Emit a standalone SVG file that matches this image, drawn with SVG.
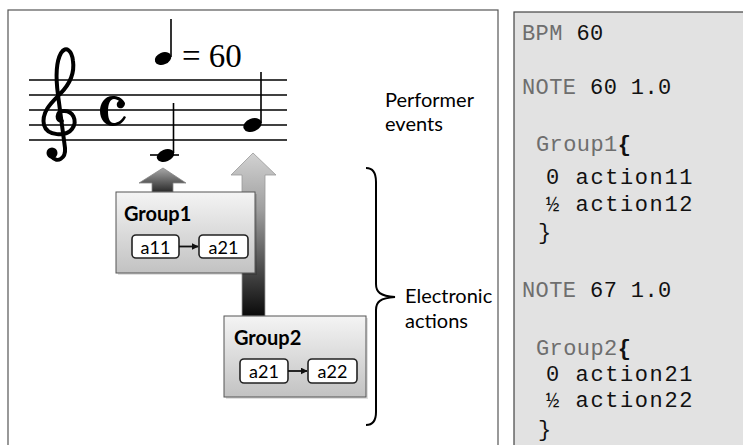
<svg xmlns="http://www.w3.org/2000/svg" width="743" height="445" viewBox="0 0 743 445">
<style>
.frame{fill:#fff;stroke:#555;stroke-width:1.2}
.code{fill:#e2e2e2;stroke:#444;stroke-width:1.2}
.staff{stroke:#000;stroke-width:1.4}
.sans{font-family:Lato,"Liberation Sans",sans-serif;fill:#000}
.lbl{font-size:20px}
.gname{font-size:20px;font-weight:bold}
.act{font-size:18px}
.abox{fill:#fff;stroke:#222;stroke-width:1.6}
.grp{fill:url(#gbox);stroke:#555;stroke-width:1}
.shadow{fill:#000;opacity:0.12}
.mono{font-family:"Liberation Mono","Courier New",monospace}
.kw{fill:#6e6e6e}
.bk{fill:#111}
.code1{font-size:22px;letter-spacing:0.4px}
.code2{font-size:22px;letter-spacing:1.6px}
.link{stroke:#111;stroke-width:1.8;fill:none}
</style>
<defs>
<linearGradient id="gbox" x1="0" y1="0" x2="0" y2="1">
<stop offset="0" stop-color="#f4f4f4"/>
<stop offset="1" stop-color="#c2c2c2"/>
</linearGradient>
<linearGradient id="garr1" x1="0" y1="168" x2="0" y2="192" gradientUnits="userSpaceOnUse">
<stop offset="0" stop-color="#a8a8a8"/>
<stop offset="1" stop-color="#2a2a2a"/>
</linearGradient>
<linearGradient id="garr2" x1="0" y1="153" x2="0" y2="316" gradientUnits="userSpaceOnUse">
<stop offset="0" stop-color="#d2d2d2"/>
<stop offset="0.35" stop-color="#9e9e9e"/>
<stop offset="1" stop-color="#0a0a0a"/>
</linearGradient>
<marker id="ah" viewBox="0 0 10 10" refX="9" refY="5" markerWidth="7" markerHeight="7" orient="auto" markerUnits="userSpaceOnUse">
<path d="M0,0 L10,5 L0,10 Z" fill="#111"/>
</marker>
</defs>

<rect class="frame" x="8" y="10" width="490" height="460"/>
<rect class="code" x="514" y="12" width="260" height="460"/>

<g id="score">
<line class="staff" x1="29" y1="80" x2="287" y2="80"/>
<line class="staff" x1="29" y1="95" x2="287" y2="95"/>
<line class="staff" x1="29" y1="110" x2="287" y2="110"/>
<line class="staff" x1="29" y1="125" x2="287" y2="125"/>
<line class="staff" x1="29" y1="140" x2="287" y2="140"/>
<path d="M62,121 C56,121 56,112 63,111 C73,110 78,121 72,129 C66,137 47,136 44,125 C41,112 52,102 60,94 C69,85 75,75 73,61 C72,51 66,45 61,53 C56,62 56,80 58,95 L65,148 C66,159 57,163 52,157" fill="none" stroke="#000" stroke-width="4" stroke-linecap="round"/>
<circle cx="52" cy="153" r="5.5"/>
<path d="M125,103 C122,97 117,96 113,96 C104,96 100,104 100,111 C100,119 105,126 113,126 C119,126 124,122 126,117 L124,116 C121,121 117,123 114,123 C109,123 108,117 108,111 C108,104 110,99 114,99 C116,99 118,100 119,101 C116,102 116,107 119,108 C122,109 125,107 125,103 Z"/>
<line x1="150" y1="155" x2="179" y2="155" stroke="#000" stroke-width="1.6"/>
<ellipse cx="165.5" cy="155.5" rx="9" ry="6" transform="rotate(-22 165.5 155.5)"/>
<line x1="173.5" y1="103" x2="173.5" y2="153" stroke="#000" stroke-width="1.6"/>
<ellipse cx="252.5" cy="125" rx="9.5" ry="6.5" transform="rotate(-22 252.5 125)"/>
<line x1="261" y1="72" x2="261" y2="123" stroke="#000" stroke-width="1.6"/>
<ellipse cx="163" cy="58.5" rx="8.5" ry="6" transform="rotate(-22 163 58.5)"/>
<line x1="171" y1="19" x2="171" y2="57" stroke="#000" stroke-width="1.6"/>
<text x="182" y="67" font-family="'Liberation Serif',serif" font-size="33">= 60</text>
</g>

<g id="connectors">
<path d="M163,168 L186,183 L173,183 L173,192 L152,192 L152,183 L139,183 Z" fill="url(#garr1)" stroke="#888" stroke-width="0.8"/>
<path d="M253,153 L276,175 L265,175 L265,316 L242,316 L242,175 L231,175 Z" fill="url(#garr2)" stroke="#999" stroke-width="0.8"/>
<path d="M366,168 C373,168 376,173 376,182 L376,284 C376,292 380,296 395,297 C380,298 376,302 376,310 L376,412 C376,421 373,425 366,425" fill="none" stroke="#000" stroke-width="2"/>
</g>

<g id="group1">
<rect class="shadow" x="118" y="194" width="139" height="81"/>
<rect class="grp" x="116" y="192" width="139" height="81"/>
<text class="sans gname" x="124" y="221">Group1</text>
<rect class="abox" x="132" y="235" width="47" height="23" rx="4"/>
<text class="sans act" x="155.5" y="253.5" text-anchor="middle">a11</text>
<rect class="abox" x="199" y="235" width="49" height="23" rx="4"/>
<text class="sans act" x="223.5" y="253.5" text-anchor="middle">a21</text>
<line class="link" x1="179" y1="246.5" x2="198" y2="246.5" marker-end="url(#ah)"/>
</g>

<g id="group2">
<rect class="shadow" x="226" y="318" width="142" height="81"/>
<rect class="grp" x="224" y="316" width="142" height="81"/>
<text class="sans gname" x="234" y="345">Group2</text>
<rect class="abox" x="240" y="359" width="48" height="24" rx="4"/>
<text class="sans act" x="264" y="378" text-anchor="middle">a21</text>
<rect class="abox" x="308" y="359" width="49" height="24" rx="4"/>
<text class="sans act" x="332.5" y="378" text-anchor="middle">a22</text>
<line class="link" x1="288" y1="371" x2="307" y2="371" marker-end="url(#ah)"/>
</g>

<g id="labels">
<text class="sans lbl" x="385" y="107">Performer</text>
<text class="sans lbl" x="385" y="131">events</text>
<text class="sans lbl" x="405" y="303">Electronic</text>
<text class="sans lbl" x="405" y="328">actions</text>
</g>

<g id="code" class="mono">
<text class="code1" x="522" y="40"><tspan class="kw">BPM</tspan><tspan class="bk"> 60</tspan></text>
<text class="code1" x="522" y="94"><tspan class="kw">NOTE</tspan><tspan class="bk"> 60 1.0</tspan></text>
<text class="code1" x="536" y="151"><tspan class="kw">Group1</tspan><tspan class="bk" font-weight="bold">{</tspan></text>
<text class="code2 bk" x="546" y="184">0 action11</text>
<text class="code2 bk" x="546" y="211">½ action12</text>
<text class="code1 bk" x="538" y="239">}</text>
<text class="code1" x="522" y="297"><tspan class="kw">NOTE</tspan><tspan class="bk"> 67 1.0</tspan></text>
<text class="code1" x="536" y="355"><tspan class="kw">Group2</tspan><tspan class="bk" font-weight="bold">{</tspan></text>
<text class="code2 bk" x="546" y="381">0 action21</text>
<text class="code2 bk" x="546" y="407">½ action22</text>
<text class="code1 bk" x="538" y="436">}</text>
</g>
</svg>
